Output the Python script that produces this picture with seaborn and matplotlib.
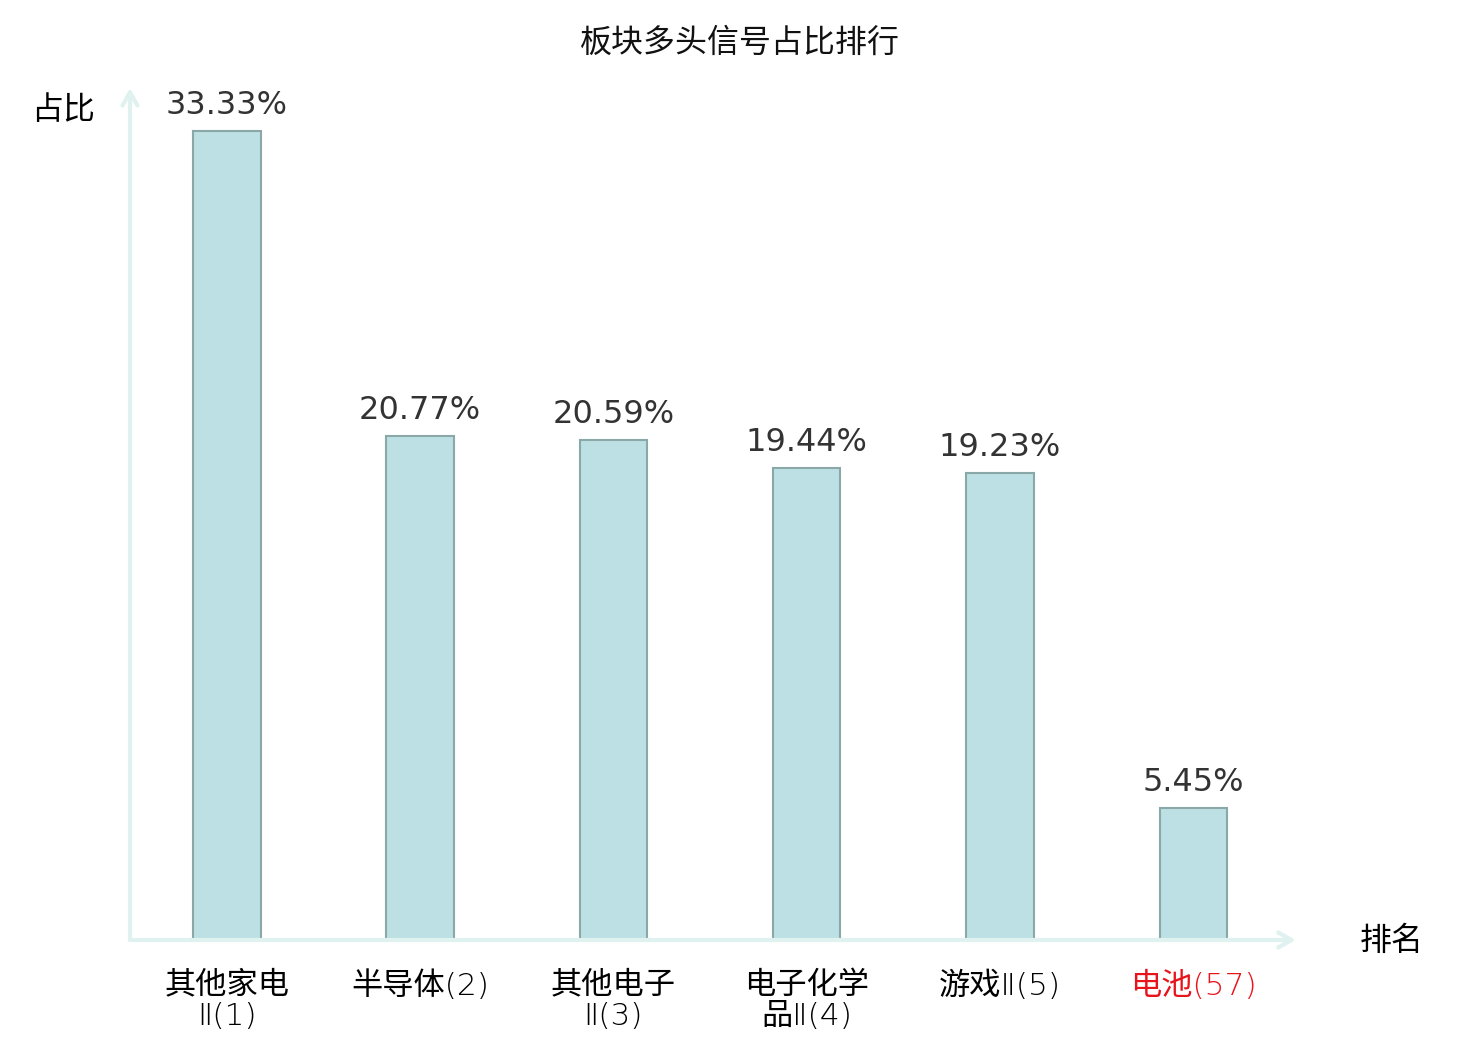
import matplotlib
matplotlib.use("Agg")
import matplotlib.pyplot as plt
import seaborn as sns
import pandas as pd

categories = ["其他家电\nⅡ(1)", "半导体(2)", "其他电子\nⅡ(3)", "电子化学\n品Ⅱ(4)", "游戏Ⅱ(5)", "电池(57)"]
values = [33.33, 20.77, 20.59, 19.44, 19.23, 5.45]
value_labels = ["33.33%", "20.77%", "20.59%", "19.44%", "19.23%", "5.45%"]
label_colors = ["black", "black", "black", "black", "black", "#e8141b"]
title = "板块多头信号占比排行"
y_name = "占比"
x_name = "排名"

sns.set_theme(style="white")
plt.rcParams['font.family'] = ['Noto Sans CJK SC', 'DejaVu Sans']

df = pd.DataFrame({"cat": categories, "val": values})

fig = plt.figure(figsize=(14.8, 10.4), dpi=100)
ax = fig.add_axes([130/1480, 100/1040, 1160/1480, 852/1040])

sns.barplot(data=df, x="cat", y="val", ax=ax, color="#bce0e3", saturation=1,
            width=0.35, edgecolor="#8aa8a8", linewidth=1.5)

ax.set_xlim(-0.5, 5.5)
ax.set_ylim(0, 35.1)
for s in ax.spines.values():
    s.set_visible(False)
ax.set_yticks([])
ax.set_xlabel("")
ax.set_ylabel("")
ax.tick_params(axis="x", length=0, pad=22)
ax.set_xticks(range(len(categories)))
ax.set_xticklabels(categories, fontsize=22.5, linespacing=1.12, va="top",
                   family=['DejaVu Sans', 'Noto Sans CJK SC'], fontweight=200)
for t, c in zip(ax.get_xticklabels(), label_colors):
    t.set_color(c)

for p, lab in zip(ax.patches, value_labels):
    ax.annotate(lab, (p.get_x() + p.get_width() / 2, p.get_height()),
                xytext=(0, 7), textcoords="offset points", ha="center", va="bottom",
                fontsize=23, color="#333333", family="DejaVu Sans")

axis_col = "#dff2f0"
ax.annotate("", xy=(1.005, 0), xytext=(0, 0), xycoords="axes fraction",
            arrowprops=dict(arrowstyle="->,head_length=0.8,head_width=0.45", color=axis_col, lw=3,
                            shrinkA=0, shrinkB=0))
ax.annotate("", xy=(0, 1.0), xytext=(0, 0), xycoords="axes fraction",
            arrowprops=dict(arrowstyle="->,head_length=0.8,head_width=0.45", color=axis_col, lw=3,
                            shrinkA=0, shrinkB=0))

fig.text(740/1480, 1 - 43/1040, title, ha="center", va="center", fontsize=23, color="#111111")
fig.text(63/1480, 1 - 110/1040, y_name, ha="center", va="center", fontsize=23, color="black")
fig.text(1392/1480, 1 - 941/1040, x_name, ha="center", va="center", fontsize=23, color="black")

fig.savefig("out.png", dpi=100)
